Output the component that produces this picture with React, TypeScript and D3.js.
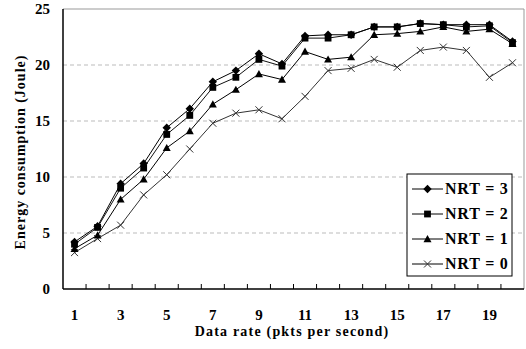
import React from "react";
import * as d3 from "d3";

const categories = d3.range(1, 21);
const xTickLabels = [1, 3, 5, 7, 9, 11, 13, 15, 17, 19];
const yTicks = [0, 5, 10, 15, 20, 25];

const nrt3 = [4.2, 5.6, 9.4, 11.2, 14.4, 16.1, 18.5, 19.5, 21.0, 20.1, 22.6, 22.7, 22.7, 23.4, 23.4, 23.7, 23.6, 23.6, 23.6, 22.1];
const nrt2 = [4.0, 5.5, 9.0, 10.8, 13.8, 15.5, 18.0, 18.9, 20.5, 19.9, 22.4, 22.4, 22.7, 23.4, 23.4, 23.7, 23.6, 23.4, 23.5, 22.0];
const nrt1 = [3.6, 4.8, 8.0, 9.8, 12.6, 14.1, 16.5, 17.8, 19.2, 18.7, 21.2, 20.5, 20.7, 22.7, 22.8, 23.0, 23.4, 23.0, 23.2, 21.9];
const nrt0 = [3.25, 4.5, 5.7, 8.4, 10.2, 12.5, 14.8, 15.7, 16.0, 15.2, 17.2, 19.5, 19.7, 20.5, 19.8, 21.3, 21.6, 21.3, 18.9, 20.2];

const seriesNames = ["NRT = 3", "NRT = 2", "NRT = 1", "NRT = 0"];
const seriesValues = [nrt3, nrt2, nrt1, nrt0];
const seriesMarkers = ["diamond", "square", "triangle", "cross"];
const seriesColors = ["#000", "#111", "#000", "#333"];

const W = 526;
const H = 349;
const left = 63;
const right = 524;
const top = 9;
const bottom = 289;
const font = '"Liberation Serif", "DejaVu Serif", serif';

function Marker({ kind, x, y }: { kind: string; x: number; y: number }) {
  if (kind === "diamond") {
    const s = 4.2;
    return <path d={`M${x},${y - s}L${x + s},${y}L${x},${y + s}L${x - s},${y}Z`} fill="#000" />;
  }
  if (kind === "square") {
    const s = 3.4;
    return <rect x={x - s} y={y - s} width={2 * s} height={2 * s} fill="#000" />;
  }
  if (kind === "triangle") {
    const s = 4;
    return <path d={`M${x},${y - s}L${x + s},${y + s * 0.8}L${x - s},${y + s * 0.8}Z`} fill="#000" />;
  }
  const s = 3.5;
  return (
    <path
      d={`M${x - s},${y - s}L${x + s},${y + s}M${x - s},${y + s}L${x + s},${y - s}`}
      stroke="#333"
      strokeWidth={1}
    />
  );
}

export default function App() {
  const x = d3.scaleBand<number>().domain(categories).range([left, right]);
  const y = d3.scaleLinear().domain([0, 25]).range([bottom, top]);
  const cx = (c: number) => (x(c) ?? 0) + x.bandwidth() / 2;

  const line = d3
    .line<number>()
    .x((_, i) => cx(categories[i]))
    .y((v) => y(v));

  const legendX = 407;
  const legendY = 174;
  const legendRow = 25;
  const textStyle = { fontFamily: font, fontWeight: "bold" as const };

  return (
    <svg
      width={W}
      height={H}
      style={{ position: "absolute", left: 0, top: 0, background: "#fff" }}
    >
      {/* grid lines */}
      {yTicks
        .filter((t) => t > 0 && t < 25)
        .map((t) => (
          <line
            key={t}
            x1={left}
            x2={right}
            y1={y(t)}
            y2={y(t)}
            stroke="#bbb"
            strokeDasharray="4,3"
            strokeWidth={1}
          />
        ))}
      {/* frame */}
      <line x1={left} x2={right} y1={top} y2={top} stroke="#999" />
      <line x1={right} x2={right} y1={top} y2={bottom} stroke="#999" />
      <line x1={left} x2={left} y1={top} y2={bottom} stroke="#000" strokeWidth={1.5} />
      <line x1={left} x2={right} y1={bottom} y2={bottom} stroke="#000" strokeWidth={1.5} />
      {/* x tick marks at category boundaries */}
      {categories.slice(1).map((c) => (
        <line key={c} x1={x(c)} x2={x(c)} y1={bottom} y2={bottom - 5} stroke="#000" />
      ))}
      {/* y tick labels */}
      {yTicks.map((t) => (
        <text key={t} x={50} y={y(t) + 5} textAnchor="end" fontSize={15} style={textStyle}>
          {t}
        </text>
      ))}
      {/* x tick labels */}
      {xTickLabels.map((c) => (
        <text key={c} x={cx(c)} y={320} textAnchor="middle" fontSize={15} style={textStyle}>
          {c}
        </text>
      ))}
      <text
        x={292}
        y={336}
        textAnchor="middle"
        fontSize={14}
        letterSpacing={1.2}
        style={textStyle}
      >
        Data rate (pkts per second)
      </text>
      <text
        transform={`translate(25,${(top + bottom) / 2 + 3}) rotate(-90)`}
        textAnchor="middle"
        fontSize={14}
        letterSpacing={1}
        style={textStyle}
      >
        Energy consumption (Joule)
      </text>
      {/* series */}
      {seriesValues
        .map((vals, si) => ({ vals, si }))
        .reverse()
        .map(({ vals, si }) => (
          <g key={si}>
            <path d={line(vals) ?? ""} fill="none" stroke={seriesColors[si]} strokeWidth={1} />
            {vals.map((v, i) => (
              <Marker key={i} kind={seriesMarkers[si]} x={cx(categories[i])} y={y(v)} />
            ))}
          </g>
        ))}
      {/* legend */}
      <rect x={legendX} y={legendY} width={105} height={102} fill="#fff" stroke="#000" strokeWidth={1} />
      {seriesNames.map((name, i) => {
        const ly = legendY + 15 + i * legendRow;
        return (
          <g key={name}>
            <line x1={legendX + 5} x2={legendX + 36} y1={ly} y2={ly} stroke="#000" />
            <Marker kind={seriesMarkers[i]} x={legendX + 20.5} y={ly} />
            <text x={legendX + 38} y={ly + 5} fontSize={16} letterSpacing={0.8} style={textStyle}>
              {name}
            </text>
          </g>
        );
      })}
    </svg>
  );
}
